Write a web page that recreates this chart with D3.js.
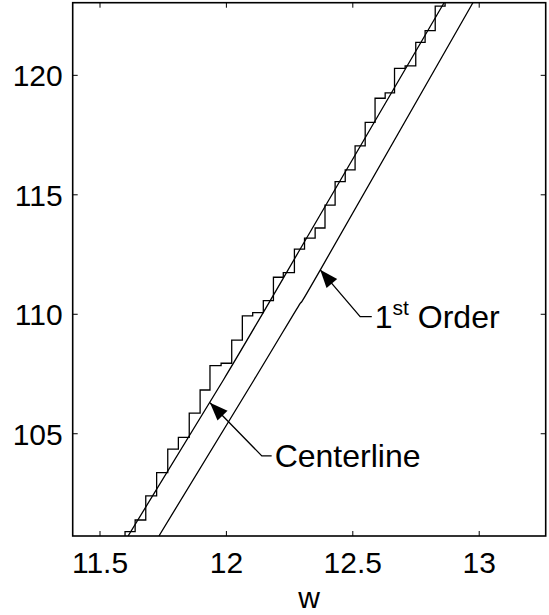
<!DOCTYPE html>
<html>
<head>
<meta charset="utf-8">
<script src="https://cdn.jsdelivr.net/npm/d3@7"></script>
<style>
  body { margin: 0; background: #fff; }
  text { font-family: "Liberation Sans", Arial, Helvetica, sans-serif; fill: #000; }
</style>
</head>
<body>
<div id="chart"></div>
<script>
// data
const xTicks = [11.5, 12, 12.5, 13];
const yTicks = [105, 110, 115, 120];
const xDomain = [11.392, 13.263];
const yDomain = [100.72, 123.04];

// staircase: riser positions and the level after each riser
const stairW = [11.558, 11.599, 11.639, 11.681, 11.724, 11.768, 11.810, 11.853, 11.896, 11.935,
  11.979, 12.021, 12.063, 12.104, 12.146, 12.186, 12.225, 12.269, 12.309, 12.351, 12.390,
  12.430, 12.470, 12.509, 12.549, 12.588, 12.628, 12.665, 12.707, 12.749, 12.786, 12.826, 12.865];
const stairV = [100.45, 100.90, 101.39, 102.40, 103.37, 104.36, 104.85, 105.86, 106.83, 107.85,
  107.95, 108.92, 109.93, 110.07, 110.57, 111.55, 111.74, 112.73, 113.19, 113.61, 114.57,
  115.55, 116.04, 117.05, 118.03, 119.04, 119.27, 120.29, 120.40, 121.38, 121.87, 122.90, 123.90];

// centerline
const centerW = [11.611, 11.988, 12.292, 12.861];
const centerV = [100.72, 107.25, 112.73, 123.04];

// 1st order line
const orderW = [11.733, 12.109, 12.292, 12.371, 12.975];
const orderV = [100.72, 107.25, 110.46, 111.85, 123.04];

// annotations: arrow tip, elbow, end of leader (data units)
const notes = [
  { tip: [12.371, 111.86], elbow: [12.529, 109.90], end: [12.575, 109.90], main: "1", sup: "st", rest: " Order" },
  { tip: [11.935, 106.30], elbow: [12.140, 104.07], end: [12.179, 104.07], main: "Centerline", sup: "", rest: "" }
];

const W = 549, H = 615;
const margin = { top: 2.7, right: 3.3, bottom: 79, left: 72.7 };
const width = W - margin.left - margin.right;
const height = H - margin.top - margin.bottom;

const svg = d3.select("#chart").append("svg")
  .attr("width", W).attr("height", H);
const g = svg.append("g")
  .attr("transform", `translate(${margin.left},${margin.top})`);

const x = d3.scaleLinear().domain(xDomain).range([0, width]);
const y = d3.scaleLinear().domain(yDomain).range([height, 0]);

g.append("clipPath").attr("id", "clip")
  .append("rect").attr("width", width).attr("height", height);

const plot = g.append("g").attr("clip-path", "url(#clip)");

// staircase
const stairs = stairW.map((w, i) => ({ w, v: stairV[i] }));
plot.append("path")
  .datum(stairs)
  .attr("d", d3.line().curve(d3.curveStepAfter).x(d => x(d.w)).y(d => y(d.v)))
  .attr("fill", "none").attr("stroke", "#000").attr("stroke-width", 1.3);

// the two lines
const lineGen = d3.line().curve(d3.curveNatural).x(d => x(d.w)).y(d => y(d.v));
plot.append("path")
  .datum(centerW.map((w, i) => ({ w, v: centerV[i] })))
  .attr("d", lineGen)
  .attr("fill", "none").attr("stroke", "#000").attr("stroke-width", 1.3);
plot.append("path")
  .datum(orderW.map((w, i) => ({ w, v: orderV[i] })))
  .attr("d", lineGen)
  .attr("fill", "none").attr("stroke", "#000").attr("stroke-width", 1.3);

// axes box with inward ticks on all sides
const tickLen = 5;
g.append("rect")
  .attr("width", width).attr("height", height)
  .attr("fill", "none").attr("stroke", "#000").attr("stroke-width", 1.6);

xTicks.forEach(t => {
  g.append("line").attr("x1", x(t)).attr("x2", x(t)).attr("y1", height).attr("y2", height - tickLen)
    .attr("stroke", "#000").attr("stroke-width", 1);
  g.append("line").attr("x1", x(t)).attr("x2", x(t)).attr("y1", 0).attr("y2", tickLen)
    .attr("stroke", "#000").attr("stroke-width", 1);
  g.append("text")
    .attr("x", x(t)).attr("y", height + 37)
    .attr("text-anchor", "middle")
    .style("font-size", "30px")
    .text(t);
});

yTicks.forEach(t => {
  g.append("line").attr("x1", 0).attr("x2", tickLen).attr("y1", y(t)).attr("y2", y(t))
    .attr("stroke", "#000").attr("stroke-width", 1);
  g.append("line").attr("x1", width).attr("x2", width - tickLen).attr("y1", y(t)).attr("y2", y(t))
    .attr("stroke", "#000").attr("stroke-width", 1);
  g.append("text")
    .attr("x", -10).attr("y", y(t))
    .attr("dy", "0.36em")
    .attr("text-anchor", "end")
    .style("font-size", "30px")
    .text(t);
});

// x label
g.append("text")
  .attr("x", width / 2).attr("y", height + 72)
  .attr("text-anchor", "middle")
  .style("font-size", "30px")
  .text("w");

// annotations with arrows
notes.forEach(n => {
  const tx = x(n.tip[0]), ty = y(n.tip[1]);
  const ex = x(n.elbow[0]), ey = y(n.elbow[1]);
  const fx = x(n.end[0]), fy = y(n.end[1]);
  g.append("path")
    .attr("d", `M${fx},${fy}L${ex},${ey}L${tx},${ty}`)
    .attr("fill", "none").attr("stroke", "#000").attr("stroke-width", 1.3);
  // filled head
  const ang = Math.atan2(ey - ty, ex - tx);
  const len = 18, half = 7;
  const bx = tx + len * Math.cos(ang), by = ty + len * Math.sin(ang);
  const px = -Math.sin(ang) * half, py = Math.cos(ang) * half;
  g.append("path")
    .attr("d", `M${tx},${ty}L${bx + px},${by + py}L${bx - px},${by - py}Z`)
    .attr("fill", "#000");

  const label = g.append("text")
    .attr("x", fx + 3).attr("y", fy + 11)
    .style("font-size", "32px");
  label.append("tspan").text(n.main);
  if (n.sup) {
    label.append("tspan").attr("dy", -13).style("font-size", "21px").text(n.sup);
    label.append("tspan").attr("dy", 13).text(n.rest);
  }
});
</script>
</body>
</html>
